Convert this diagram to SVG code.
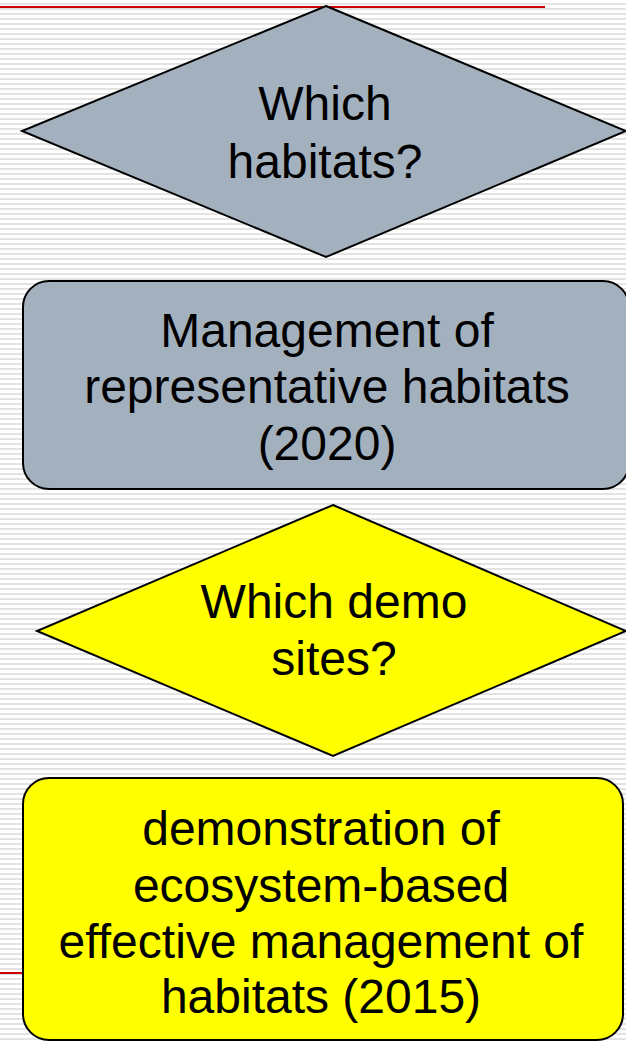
<svg xmlns="http://www.w3.org/2000/svg" width="626" height="1042" viewBox="0 0 626 1042">
<defs>
<pattern id="stripes" x="0" y="0" width="626" height="5" patternUnits="userSpaceOnUse">
<rect x="0" y="0" width="626" height="5" fill="#ffffff"/>
<rect x="0" y="3" width="626" height="2" fill="#e3e3e3"/>
</pattern>
</defs>
<style>
.shape{stroke:#000;stroke-width:2;stroke-linejoin:miter}
.gray{fill:#a3b1bf}
.yellow{fill:#ffff00}
.lbl{font-family:"Liberation Sans",Arial,sans-serif;font-size:48px;fill:#000;text-anchor:middle}
.red{stroke:#cc0000;stroke-width:2}
</style>
<rect x="0" y="0" width="626" height="1042" fill="url(#stripes)"/>
<line class="red" x1="0" y1="7" x2="545" y2="7"/>
<line class="red" x1="0" y1="973" x2="30" y2="973"/>
<g id="connectors"></g>
<g id="node-which-habitats">
<polygon class="shape gray" points="326,6 626,131 326,257 22,131"/>
<text class="lbl" x="325" y="120">Which</text>
<text class="lbl" x="325" y="178">habitats?</text>
</g>
<g id="node-management">
<rect class="shape gray" x="23" y="281" width="606" height="208" rx="26" ry="26"/>
<text class="lbl" x="327" y="347">Management of</text>
<text class="lbl" x="327" y="403">representative habitats</text>
<text class="lbl" x="327" y="460">(2020)</text>
</g>
<g id="node-which-demo">
<polygon class="shape yellow" points="333,505 626,631 333,756 37,631"/>
<text class="lbl" x="334" y="618">Which demo</text>
<text class="lbl" x="334" y="675">sites?</text>
</g>
<g id="node-demonstration">
<rect class="shape yellow" x="23" y="778" width="600" height="262" rx="26" ry="26"/>
<text class="lbl" x="321" y="845">demonstration of</text>
<text class="lbl" x="321" y="902">ecosystem-based</text>
<text class="lbl" x="321" y="958">effective management of</text>
<text class="lbl" x="321" y="1013">habitats (2015)</text>
</g>
</svg>
